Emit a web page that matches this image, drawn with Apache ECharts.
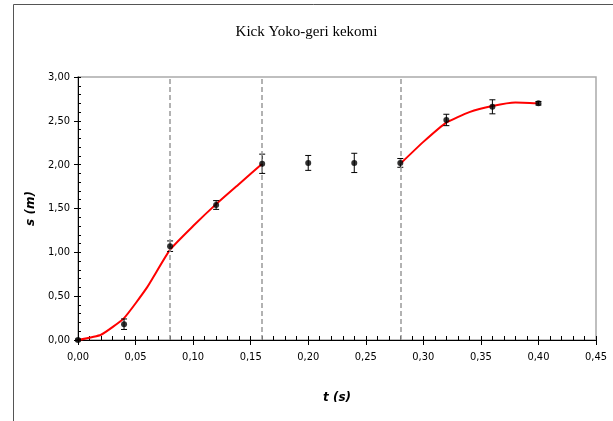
<!DOCTYPE html>
<html>
<head>
<meta charset="utf-8">
<script src="https://cdn.jsdelivr.net/npm/echarts@6/dist/echarts.min.js"></script>
<style>html,body{margin:0;padding:0;background:#fff}#c{width:613px;height:421px}</style>
</head>
<body>
<div id="c"></div>
<script>
// Measured data (mean ± error)
const times = [0.00, 0.04, 0.08, 0.12, 0.16, 0.20, 0.24, 0.28, 0.32, 0.36, 0.40];
const displacement = [0.00, 0.18, 1.07, 1.54, 2.01, 2.02, 2.02, 2.02, 2.51, 2.66, 2.70];
const errors = [0.01, 0.06, 0.06, 0.05, 0.11, 0.085, 0.11, 0.05, 0.065, 0.08, 0.02];
// Fitted red curve, two segments
const fit1T = [0.00, 0.02, 0.04, 0.06, 0.08, 0.10, 0.12, 0.14, 0.16];
const fit1S = [0.00, 0.06, 0.25, 0.60, 1.03, 1.30, 1.55, 1.78, 2.01];
const fit2T = [0.28, 0.30, 0.32, 0.34, 0.36, 0.38, 0.40];
const fit2S = [2.01, 2.26, 2.48, 2.60, 2.67, 2.71, 2.70];
// Phase boundaries
const phaseLines = [0.08, 0.16, 0.28];

const fmt = v => v.toFixed(2).replace('.', ',');
const labelFont = {fontFamily: '"Liberation Sans Narrow","DejaVu Sans Condensed",sans-serif', fontSize: 11, color: '#000'};
const nameFont = {fontFamily: '"DejaVu Sans","Liberation Sans",sans-serif', fontSize: 12, fontWeight: 'bold', fontStyle: 'italic', color: '#000'};

const chart = echarts.init(document.getElementById('c'), null, {renderer: 'canvas'});
chart.setOption({
  animation: false,
  backgroundColor: '#fff',
  title: {
    text: 'Kick Yoko-geri kekomi', left: 'center', top: 20,
    textStyle: {fontFamily: '"Liberation Serif","Times New Roman",serif', fontSize: 15, fontWeight: 'normal', color: '#000'}
  },
  graphic: [{
    type: 'rect', shape: {x: 13.5, y: 4.5, width: 640, height: 440},
    style: {fill: 'none', stroke: '#555', lineWidth: 1}, z: 100, silent: true
  }],
  grid: {left: 78, right: 17, top: 77, bottom: 81, show: true, borderColor: '#aaa', borderWidth: 1.5, backgroundColor: '#fff'},
  xAxis: [{
    type: 'value', min: 0, max: 0.45, interval: 0.05,
    name: 't (s)', nameLocation: 'middle', nameGap: 52, nameTextStyle: nameFont,
    axisLine: {show: true, lineStyle: {color: '#000', width: 1}},
    axisTick: {show: true, length: 5, lineStyle: {color: '#000'}},
    axisLabel: Object.assign({formatter: fmt, margin: 12}, labelFont),
    splitLine: {show: false}
  }, {
    type: 'value', min: 0, max: 0.45, interval: 0.05, position: 'bottom',
    axisLine: {show: false}, axisLabel: {show: false}, splitLine: {show: false},
    axisTick: {show: true, inside: true, length: 4, lineStyle: {color: '#000'}},
    minorTick: {show: true, splitNumber: 5, length: 4, lineStyle: {color: '#000'}}
  }],
  yAxis: [{
    type: 'value', min: 0, max: 3, interval: 0.5,
    name: 's (m)', nameLocation: 'middle', nameGap: 40, nameTextStyle: nameFont,
    axisLine: {show: true, lineStyle: {color: '#000', width: 1}},
    axisTick: {show: true, length: 4, lineStyle: {color: '#000'}},
    axisLabel: Object.assign({formatter: fmt, margin: 8}, labelFont),
    splitLine: {show: false}
  }, {
    type: 'value', min: 0, max: 3, interval: 0.5, position: 'left',
    axisLine: {show: false}, axisLabel: {show: false}, splitLine: {show: false},
    axisTick: {show: true, inside: true, length: 3, lineStyle: {color: '#000'}},
    minorTick: {show: true, splitNumber: 5, length: 3, lineStyle: {color: '#000'}}
  }],
  series: [{
    type: 'line', data: fit1T.map((t, i) => [t, fit1S[i]]),
    showSymbol: false, smooth: 0.15, lineStyle: {color: '#ff0000', width: 2}, z: 3
  }, {
    type: 'line', data: fit2T.map((t, i) => [t, fit2S[i]]),
    showSymbol: false, smooth: 0.15, lineStyle: {color: '#ff0000', width: 2}, z: 3
  }, {
    type: 'custom', z: 4,
    data: times.map((t, i) => [t, displacement[i], errors[i]]),
    renderItem: function (params, api) {
      const x = api.value(0), y = api.value(1), e = api.value(2);
      const top = api.coord([x, y + e]);
      const bot = api.coord([x, y - e]);
      const c = 3;
      const st = {stroke: '#000', lineWidth: 1};
      return {type: 'group', children: [
        {type: 'line', shape: {x1: top[0], y1: top[1], x2: bot[0], y2: bot[1]}, style: st},
        {type: 'line', shape: {x1: top[0] - c, y1: top[1], x2: top[0] + c, y2: top[1]}, style: st},
        {type: 'line', shape: {x1: bot[0] - c, y1: bot[1], x2: bot[0] + c, y2: bot[1]}, style: st}
      ]};
    }
  }, {
    type: 'scatter', z: 5,
    data: times.map((t, i) => [t, displacement[i]]),
    symbol: 'circle', symbolSize: 6, itemStyle: {color: '#000'}
  }, {
    type: 'line', z: 6, data: [],
    markLine: {
      silent: true, symbol: 'none', label: {show: false},
      lineStyle: {color: '#999', type: [5, 3], width: 1.5},
      data: phaseLines.map(v => ({xAxis: v}))
    }
  }]
});
</script>
</body>
</html>
